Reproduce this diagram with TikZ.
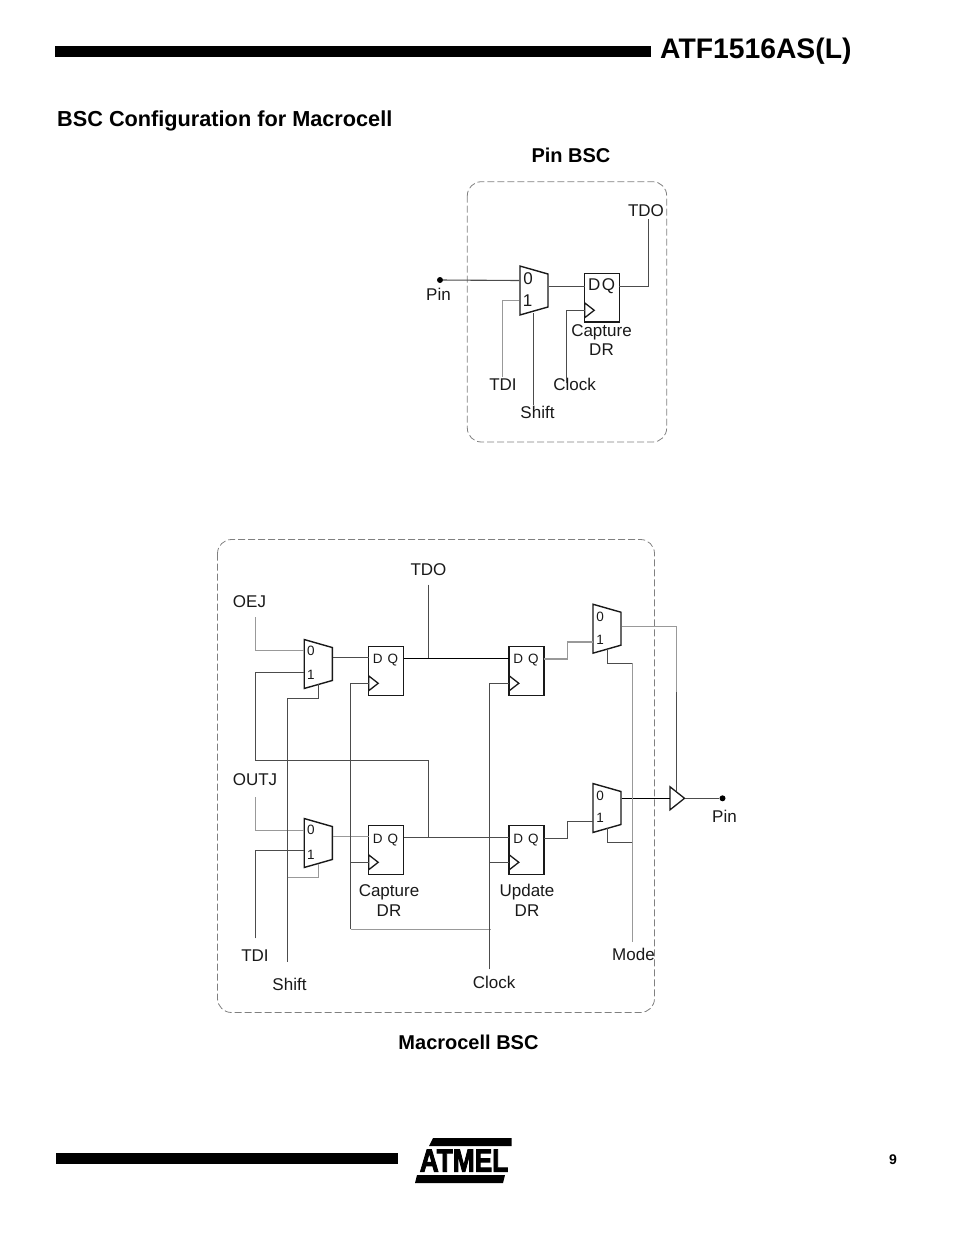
\documentclass[tikz,border=0pt]{standalone}
\usepackage{fontspec}
\setmainfont{Liberation Sans}
\newfontfamily\logofont[BoldFeatures={FakeBold=3}]{Liberation Sans}
\usetikzlibrary{shapes.geometric,positioning}
\tikzset
{
    muxcell/.style   = {trapezium, draw=black!90, line width=1.4pt, trapezium angle=76.4, shape border rotate=270, minimum width=49pt, minimum height=25pt, inner sep=1pt, outer sep=0pt, xscale=0.85},
    regcell/.style   = {rectangle, draw=black!90, line width=1.4pt, minimum width=35pt, minimum height=48.5pt, inner sep=0pt, outer sep=0pt},
    clktri/.style    = {isosceles triangle, draw=black!90, line width=1.3pt, isosceles triangle apex angle=76, minimum height=9.5pt, inner sep=1pt, outer sep=0pt, anchor=west},
    buftri/.style    = {isosceles triangle, draw=black!90, line width=1.3pt, isosceles triangle apex angle=77, minimum height=14.5pt, inner sep=1pt, outer sep=0pt, anchor=west},
    pindot/.style    = {circle, fill=black, minimum size=6pt, inner sep=0pt},
    lbl/.style       = {font=\fontsize{17}{20}\selectfont, text=black!90, inner sep=0pt, align=center},
    smalllbl/.style  = {font=\fontsize{13.5}{16}\selectfont, text=black!90, inner sep=0pt},
    boldlbl/.style   = {font=\fontsize{20}{24}\selectfont\bfseries, inner sep=0pt},
    wire/.style      = {draw=black!70, line width=1.1pt},
    palewire/.style  = {draw=black!40, line width=1.5pt},
    darkwire/.style  = {draw=black, line width=1.1pt},
    bscframe/.style  = {draw=black!50, line width=0.8pt, dash pattern=on 7pt off 3pt, rounded corners=14pt}
}

\begin{document}
\begin{tikzpicture}[x=1pt, y=-1pt]
\useasboundingbox (0,0) rectangle (954,1235);
% page furniture
\node (topbar) [fill=black, minimum width=596pt, minimum height=11pt, inner sep=0pt] at (353,51.5) {};
\node (title) [font=\fontsize{28.3}{32}\selectfont\bfseries, inner sep=0pt, anchor=west] at (660,51.5) {ATF1516AS(L)};
\node (heading) [font=\fontsize{21.7}{26}\selectfont\bfseries, inner sep=0pt, anchor=west] at (57,120.5) {BSC Configuration for Macrocell};
\node (botbar) [fill=black, minimum width=342pt, minimum height=11pt, inner sep=0pt] at (227,1158.5) {};
\node (pageno) [font=\fontsize{14}{16}\selectfont\bfseries, inner sep=0pt] at (893,1160) {9};
% logo
\fill (433,1138) -- (511.5,1138) -- (511.5,1146) -- (429,1146) -- cycle;
\fill (417,1175) -- (505,1175) -- (503,1183) -- (415,1183) -- cycle;
\node (logo) [font=\fontsize{32}{32}\selectfont\logofont\bfseries, inner sep=0pt, xscale=0.82] at (464,1160.5) {ATMEL};

% pin BSC
\node (pinbsc) [boldlbl] at (571,155) {Pin BSC};
\draw[bscframe] (467.3,181.7) rectangle (666.7,442);
\node (pm) [muxcell] at (534,290.5) {};
\node (pr) [regcell] at (602,297.7) {};
\node (prc) [clktri] at (584.7,310.3) {};
\node (pp) [pindot] at (440,280) {};
\node (ppl) [lbl] at (438.5,294.5) {Pin};
\node (ptdo) [lbl] at (646,211) {TDO};
\node (ptdi) [lbl] at (503,385) {TDI};
\node (pclk) [lbl] at (574.5,384) {Clock};
\node (pshift) [lbl] at (537.5,412) {Shift};
\node (pcap) [lbl] at (601.5,340) {Capture\\[-1.5pt]DR};
\node (pm0) [lbl] at ([shift=({-6,-11.5})]pm.center) {0};
\node (pm1) [lbl] at ([shift=({-6.5,10.5})]pm.center) {1};
\node (prt) [lbl] at ([shift=({-0.5,-11.5})]pr.center) {D\hspace{1.5pt}Q};
\coordinate (ptdoend) at (648.7,219);
\coordinate (ptdiend) at (502.7,376.7);
\coordinate (pclkend) at (566.7,383);
\coordinate (pshiftend) at (533.3,405);

\draw[wire] (pp) -- ([shift=({-14.7,-10})]pm.center);
\draw[palewire] (ptdiend) |- ([shift=({-14.7,9.8})]pm.center);
\draw[wire] (pshiftend) -- ([shift=({-0.7,22})]pm.center);
\draw[wire] ([shift=({14.7,-3.8})]pm.center) -- ([shift=({-17.3,-11})]pr.center);
\draw[wire] (pclkend) |- (prc.west);
\draw[wire] ([shift=({17.3,-11})]pr.center) -| (ptdoend);

% macrocell BSC
\node (macbsc) [boldlbl] at (468.5,1042) {Macrocell BSC};
\draw[bscframe] (217.5,539.5) rectangle (654.5,1012.5);
\node (m1) [muxcell] at (318.3,664) {};
\node (m2) [muxcell] at (318.3,843) {};
\node (m3) [muxcell] at (607,628.7) {};
\node (m4) [muxcell] at (607,808) {};
\node (r1) [regcell] at (386,671) {};
\node (r2) [regcell] at (386,850) {};
\node (r3) [regcell] at (526.5,671) {};
\node (r4) [regcell] at (526.5,850) {};
\node (r1c) [clktri] at (368.7,683.3) {};
\node (r2c) [clktri] at (368.7,862.3) {};
\node (r3c) [clktri] at (509.3,683.3) {};
\node (r4c) [clktri] at (509.3,862.3) {};
\node (buf) [buftri] at (670,798.3) {};
\node (mp) [pindot] at (722.5,798.3) {};
\node (mpl) [lbl] at (724.5,816.5) {Pin};
\node (oej) [lbl] at (249.5,601.5) {OEJ};
\node (outj) [lbl] at (255,779.5) {OUTJ};
\node (mtdi) [lbl] at (255,955.5) {TDI};
\node (mshift) [lbl] at (289.5,984.5) {Shift};
\node (mclk) [lbl] at (494,982.5) {Clock};
\node (mode) [lbl] at (633.5,954.5) {Mode};
\node (mtdo) [lbl] at (428.5,569.5) {TDO};
\node (cap) [lbl] at (389,900.5) {Capture\\[0pt]DR};
\node (upd) [lbl] at (527,900.5) {Update\\[0pt]DR};
\node (m10) [smalllbl] at ([shift=({-7.3,-13})]m1.center) {0};
\node (m11) [smalllbl] at ([shift=({-7.3,11})]m1.center) {1};
\node (m20) [smalllbl] at ([shift=({-7.3,-13})]m2.center) {0};
\node (m21) [smalllbl] at ([shift=({-7.3,12})]m2.center) {1};
\node (m30) [smalllbl] at ([shift=({-7,-12})]m3.center) {0};
\node (m31) [smalllbl] at ([shift=({-7,11})]m3.center) {1};
\node (m40) [smalllbl] at ([shift=({-7,-12.5})]m4.center) {0};
\node (m41) [smalllbl] at ([shift=({-7,10})]m4.center) {1};
\node (r1t) [smalllbl] at ([shift=({-0.5,-10.5})]r1.center) {D\hspace{5pt}Q};
\node (r2t) [smalllbl] at ([shift=({-0.5,-9.5})]r2.center) {D\hspace{5pt}Q};
\node (r3t) [smalllbl] at ([shift=({-0.5,-10.5})]r3.center) {D\hspace{5pt}Q};
\node (r4t) [smalllbl] at ([shift=({-0.5,-9.5})]r4.center) {D\hspace{5pt}Q};
\coordinate (oejend) at (255.7,617.3);
\coordinate (outjend) at (255.7,797.3);
\coordinate (tdiend) at (255.7,938.3);
\coordinate (shiftend) at (287.7,961.7);
\coordinate (shifttop) at (287.7,698.3);
\coordinate (shiftlow) at (287.7,877.7);
\coordinate (tdoend) at (428.7,584.7);
\coordinate (tdojoin) at (428.7,658.3);
\coordinate (crossa) at (255.7,760.3);
\coordinate (crossb) at (428.7,760.3);
\coordinate (crossc) at (428.7,837.3);
\coordinate (capbot) at (350.7,929.3);
\coordinate (capmid) at (350.7,862.3);
\coordinate (updend) at (489.5,969.3);
\coordinate (updmid) at (489.5,862.3);
\coordinate (updbot) at (491,929.3);
\coordinate (modeend) at (632.3,941.7);
\coordinate (modetop) at (632.3,663.3);
\coordinate (modelow) at (632.3,842.7);
\coordinate (enbend) at (676.7,692);
\coordinate (enbtip) at (676.7,791);

\draw[palewire] (oejend) |- ([shift=({-14.6,-13.3})]m1.center);
\draw[wire] ([shift=({-14.6,8.3})]m1.center) -| (crossa) -- (crossb) -- (crossc);
\draw[palewire] (outjend) |- ([shift=({-14.6,-12.7})]m2.center);
\draw[wire] (tdiend) |- ([shift=({-14.6,7.7})]m2.center);
\draw[wire] (shiftend) -- (shifttop) -| ([shift=({0,20})]m1.center);
\draw[palewire] (shiftlow) -| ([shift=({0,21})]m2.center);
\draw[wire] ([shift=({14.7,-6.3})]m1.center) -- ([shift=({-17.3,-13.3})]r1.center);
\draw[palewire] ([shift=({14.7,-6.3})]m2.center) -- ([shift=({-17.3,-13.3})]r2.center);
\draw[darkwire] ([shift=({17.7,-12.7})]r1.center) -- ([shift=({-17.2,-12.7})]r3.center);
\draw[wire] ([shift=({17.7,-12.7})]r2.center) -- ([shift=({-17.2,-12.7})]r4.center);
\draw[wire] (tdoend) -- (tdojoin);
\draw[wire] (capbot) |- (r1c.west);
\draw[wire] (capmid) -- (r2c.west);
\draw[palewire] (capbot) -- (updbot);
\draw[wire] (updend) |- (r3c.west);
\draw[wire] (updmid) -- (r4c.west);
\draw[palewire] ([shift=({17.2,-12})]r3.center) -- ++(24,0) |- ([shift=({-14.3,13.3})]m3.center);
\draw[wire] ([shift=({17.2,-11.7})]r4.center) -- ++(24,0) |- ([shift=({-14.3,13.3})]m4.center);
\draw[palewire] ([shift=({14.7,-2})]m3.center) -| (enbend);
\draw[wire] (enbend) -- (enbtip);
\draw[darkwire] ([shift=({14.7,-9.7})]m4.center) -- (buf.west);
\draw[wire] (buf.apex) -- (mp);
\draw[palewire] (modeend) -- (modetop);
\draw[wire] (modetop) -| ([shift=({0.3,20})]m3.center);
\draw[wire] (modelow) -| ([shift=({0.3,20})]m4.center);
\end{tikzpicture}
\end{document}
